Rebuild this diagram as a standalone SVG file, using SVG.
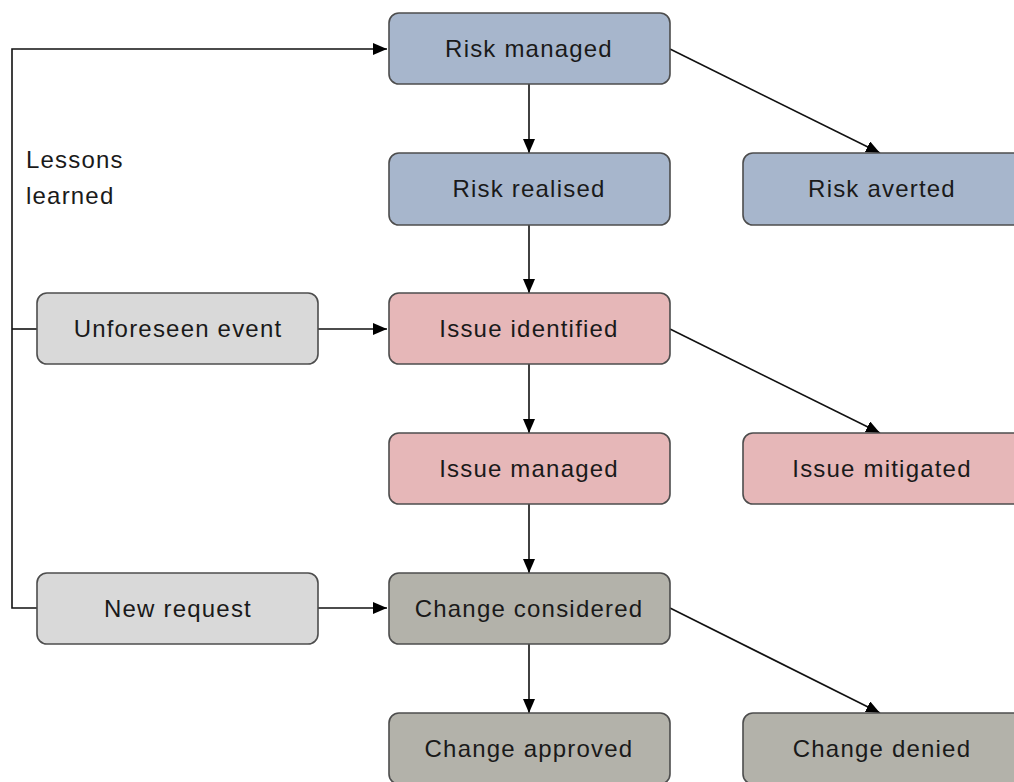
<svg xmlns="http://www.w3.org/2000/svg" width="1014" height="782" viewBox="0 0 1014 782">
  <style>
    .box { stroke: #4d4d4d; stroke-width: 1.6; }
    .risk { fill: #a7b6cc; }
    .issue { fill: #e6b7b8; }
    .change { fill: #b3b2aa; }
    .source { fill: #d9d9d9; }
    .label { font-family: "Liberation Sans", Arial, sans-serif; font-size: 24px; letter-spacing: 1.2px; fill: #1a1a1a; text-anchor: middle; }
    .note { font-family: "Liberation Sans", Arial, sans-serif; font-size: 24px; letter-spacing: 1.2px; fill: #1a1a1a; }
    .edge { fill: none; stroke: #111; stroke-width: 1.6; }
  </style>
  <defs>
    <marker id="arrow" viewBox="0 0 14 12" refX="14" refY="6" markerWidth="14" markerHeight="12" markerUnits="userSpaceOnUse" orient="auto">
      <path d="M0,0 L14,6 L0,12 Z" fill="#000"/>
    </marker>
  </defs>

  <rect width="1014" height="782" fill="#fff"/>

  <!-- connectors -->
  <g id="connectors">
    <!-- feedback loop: lessons learned back to risk management -->
    <polyline class="edge" points="37,329 12,329"/>
    <polyline class="edge" points="37,608 12,608 12,49 387,49" marker-end="url(#arrow)"/>
    <!-- risk row -->
    <line class="edge" x1="529" y1="84" x2="529" y2="153" marker-end="url(#arrow)"/>
    <line class="edge" x1="670" y1="49" x2="880" y2="153" marker-end="url(#arrow)"/>
    <line class="edge" x1="529" y1="225" x2="529" y2="293" marker-end="url(#arrow)"/>
    <!-- issue row -->
    <line class="edge" x1="318" y1="329" x2="387" y2="329" marker-end="url(#arrow)"/>
    <line class="edge" x1="529" y1="364" x2="529" y2="433" marker-end="url(#arrow)"/>
    <line class="edge" x1="670" y1="329" x2="880" y2="433" marker-end="url(#arrow)"/>
    <line class="edge" x1="529" y1="504" x2="529" y2="573" marker-end="url(#arrow)"/>
    <!-- change row -->
    <line class="edge" x1="318" y1="608" x2="387" y2="608" marker-end="url(#arrow)"/>
    <line class="edge" x1="529" y1="644" x2="529" y2="713" marker-end="url(#arrow)"/>
    <line class="edge" x1="670" y1="608" x2="880" y2="713" marker-end="url(#arrow)"/>
  </g>

  <text class="note" x="26" y="168">Lessons</text>
  <text class="note" x="26" y="204">learned</text>

  <g id="risk-managed">
    <rect class="box risk" x="389" y="13" width="281" height="71" rx="10"/>
    <text class="label" x="529" y="57">Risk managed</text>
  </g>
  <g id="risk-realised">
    <rect class="box risk" x="389" y="153" width="281" height="72" rx="10"/>
    <text class="label" x="529" y="197">Risk realised</text>
  </g>
  <g id="risk-averted">
    <rect class="box risk" x="743" y="153" width="282" height="72" rx="10"/>
    <text class="label" x="882" y="197">Risk averted</text>
  </g>

  <g id="unforeseen-event">
    <rect class="box source" x="37" y="293" width="281" height="71" rx="10"/>
    <text class="label" x="178" y="337">Unforeseen event</text>
  </g>
  <g id="issue-identified">
    <rect class="box issue" x="389" y="293" width="281" height="71" rx="10"/>
    <text class="label" x="529" y="337">Issue identified</text>
  </g>
  <g id="issue-managed">
    <rect class="box issue" x="389" y="433" width="281" height="71" rx="10"/>
    <text class="label" x="529" y="477">Issue managed</text>
  </g>
  <g id="issue-mitigated">
    <rect class="box issue" x="743" y="433" width="282" height="71" rx="10"/>
    <text class="label" x="882" y="477">Issue mitigated</text>
  </g>

  <g id="new-request">
    <rect class="box source" x="37" y="573" width="281" height="71" rx="10"/>
    <text class="label" x="178" y="617">New request</text>
  </g>
  <g id="change-considered">
    <rect class="box change" x="389" y="573" width="281" height="71" rx="10"/>
    <text class="label" x="529" y="617">Change considered</text>
  </g>
  <g id="change-approved">
    <rect class="box change" x="389" y="713" width="281" height="71" rx="10"/>
    <text class="label" x="529" y="757">Change approved</text>
  </g>
  <g id="change-denied">
    <rect class="box change" x="743" y="713" width="282" height="71" rx="10"/>
    <text class="label" x="882" y="757">Change denied</text>
  </g>
</svg>
